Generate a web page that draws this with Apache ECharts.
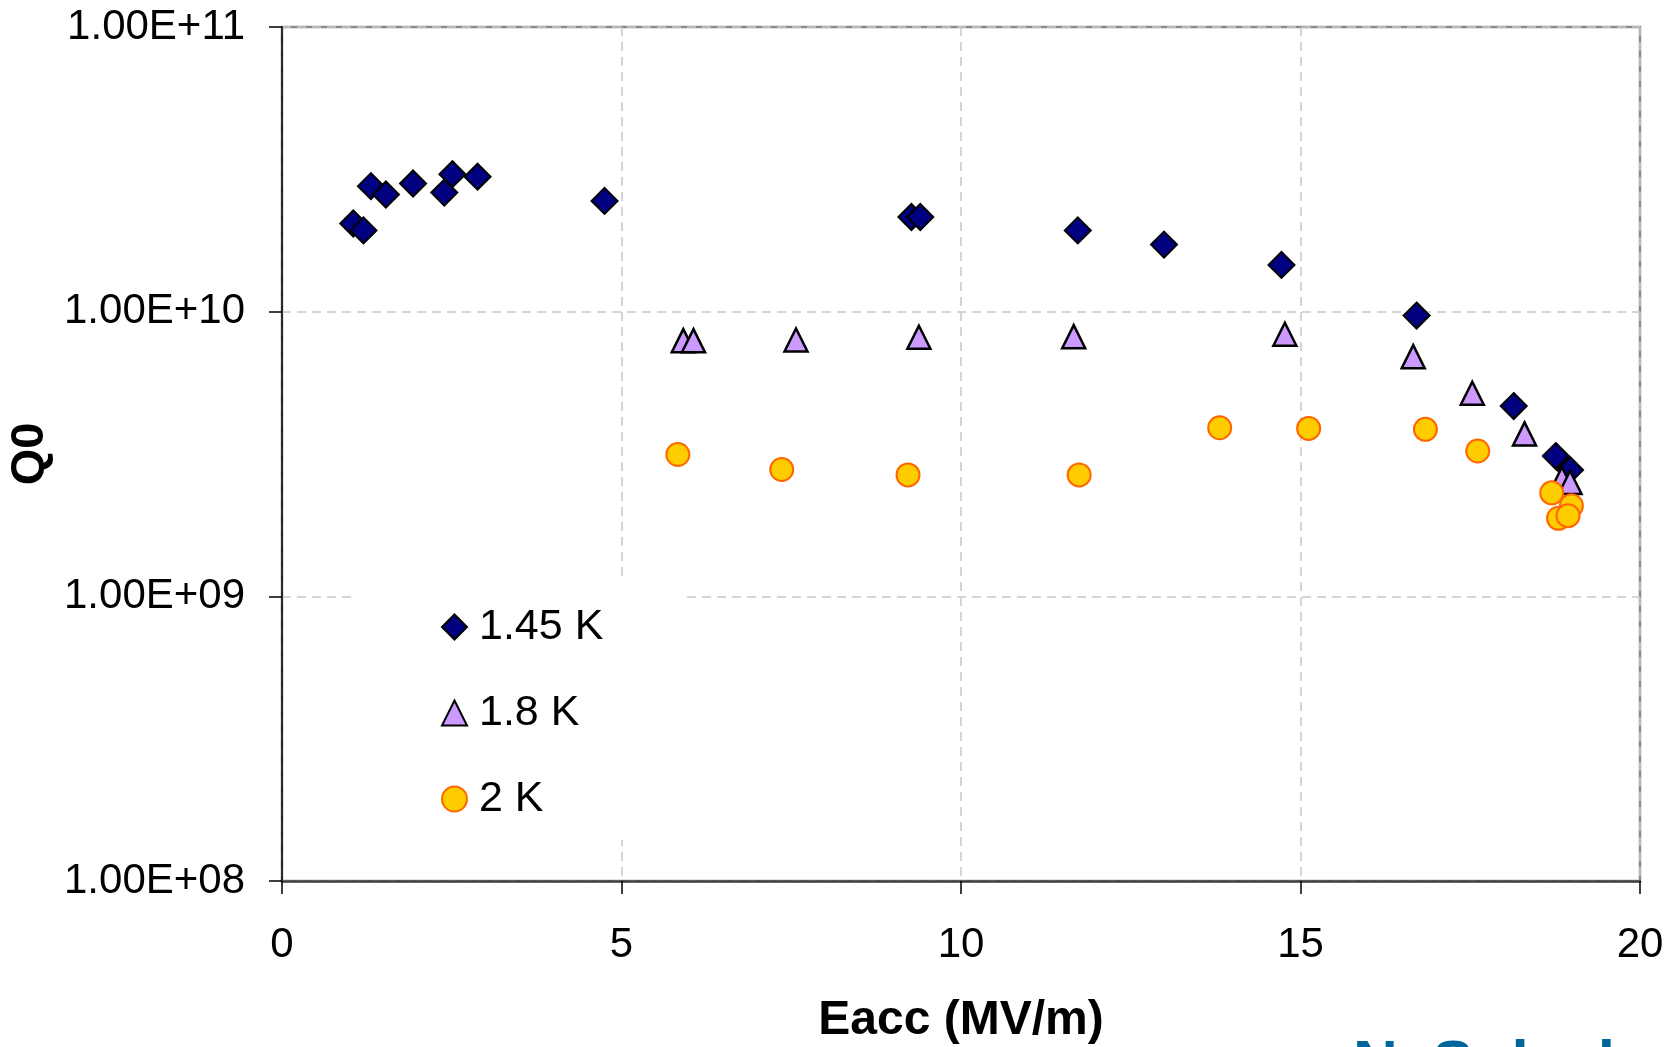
<!DOCTYPE html>
<html>
<head>
<meta charset="utf-8">
<script src="https://cdn.jsdelivr.net/npm/echarts/dist/echarts.min.js"></script>
<style>
  html, body { margin: 0; padding: 0; background: #fff; }
  #chart { width: 1674px; height: 1047px; }
</style>
</head>
<body>
<div id="chart"></div>
<script>
// 1.45 K
const eacc145 = [1.05, 1.20, 1.31, 1.53, 1.93, 2.39, 2.51, 2.88, 4.75, 9.27, 9.40, 11.72, 12.99, 14.72, 16.71, 18.14, 18.76, 18.97]
const q145 = [2.04e10, 1.93e10, 2.76e10, 2.58e10, 2.82e10, 2.62e10, 3.04e10, 2.98e10, 2.45e10, 2.15e10, 2.15e10, 1.93e10, 1.72e10, 1.46e10, 9.69e9, 4.66e9, 3.11e9, 2.78e9]

// 1.8 K
const eacc18 = [5.91, 6.06, 7.57, 9.38, 11.66, 14.77, 16.66, 17.53, 18.30, 18.85, 18.97]
const q18 = [7.91e9, 7.91e9, 7.95e9, 8.13e9, 8.17e9, 8.33e9, 6.95e9, 5.17e9, 3.72e9, 2.59e9, 2.51e9]

// 2 K
const eacc2 = [5.83, 7.36, 9.22, 11.74, 13.81, 15.12, 16.84, 17.61, 18.70, 18.99, 18.80, 18.94]
const q2 = [3.15e9, 2.79e9, 2.67e9, 2.67e9, 3.91e9, 3.89e9, 3.86e9, 3.24e9, 2.31e9, 2.08e9, 1.88e9, 1.92e9]

const seriesNames = ['1.45 K', '1.8 K', '2 K']
const xTicks = [0, 5, 10, 15, 20]
const yTicks = [1e8, 1e9, 1e10, 1e11]

const FONT = '"Liberation Sans", Arial, sans-serif'

function pairs(xs, ys) {
  return xs.map((x, i) => [x, ys[i]])
}

const chart = echarts.init(document.getElementById('chart'))

const gridDash = {
  color: '#c8c8c8',
  width: 1.5,
  type: [9, 6]
}

const option = {
  animation: false,
  backgroundColor: '#fff',
  grid: {
    left: 282,
    right: 34,
    top: 27,
    bottom: 166,
    outerBoundsMode: 'none',
    containLabel: false,
    show: true,
    borderColor: '#8a8a8a',
    borderWidth: 2.5,
    backgroundColor: 'transparent'
  },
  legend: {
    orient: 'vertical',
    left: 353,
    top: 580,
    padding: [24, 80, 18, 88],
    backgroundColor: '#fff',
    itemWidth: 25,
    itemHeight: 25,
    itemGap: 40,
    selectedMode: false,
    textStyle: {
      fontFamily: FONT,
      fontSize: 43,
      color: '#000',
      lineHeight: 46,
      padding: [0, 0, 0, 7]
    },
    data: seriesNames
  },
  xAxis: {
    type: 'value',
    min: xTicks[0],
    max: xTicks[xTicks.length - 1],
    interval: 5,
    name: 'Eacc (MV/m)',
    nameLocation: 'middle',
    nameGap: 116,
    nameTextStyle: {
      fontFamily: FONT,
      fontSize: 48,
      fontWeight: 'bold',
      color: '#000'
    },
    axisLine: { lineStyle: { color: '#404040', width: 2.5 } },
    axisTick: { show: true, inside: false, length: 13, lineStyle: { color: '#000', width: 1.5 } },
    axisLabel: {
      margin: 43,
      fontFamily: FONT,
      fontSize: 42,
      color: '#000'
    },
    splitLine: { show: true, lineStyle: gridDash }
  },
  yAxis: {
    type: 'log',
    logBase: 10,
    min: yTicks[0],
    max: yTicks[yTicks.length - 1],
    splitNumber: 3,
    name: 'Q0',
    nameLocation: 'middle',
    nameRotate: 90,
    nameGap: 222,
    nameTextStyle: {
      fontFamily: FONT,
      fontSize: 47,
      fontWeight: 'bold',
      color: '#000'
    },
    axisLine: { show: true, lineStyle: { color: '#000', width: 1.5 } },
    axisTick: { show: true, inside: false, length: 13, lineStyle: { color: '#000', width: 1.5 } },
    minorTick: { show: false },
    axisLabel: {
      margin: 37,
      fontFamily: FONT,
      fontSize: 42,
      color: '#000',
      formatter: function (v) {
        const e = Math.round(Math.log10(v))
        return '1.00E+' + (e < 10 ? '0' : '') + e
      }
    },
    splitLine: { show: true, lineStyle: gridDash }
  },
  graphic: [{
    type: 'text',
    left: 1353,
    top: 1035,
    style: {
      text: 'N. Solyak',
      font: 'bold 62px ' + FONT,
      fill: '#00669a'
    }
  }],
  series: [
    {
      name: seriesNames[0],
      type: 'scatter',
      symbol: 'diamond',
      symbolSize: 26,
      data: pairs(eacc145, q145),
      itemStyle: { color: '#000080', borderColor: '#000', borderWidth: 2, opacity: 1 }
    },
    {
      name: seriesNames[1],
      type: 'scatter',
      symbol: 'triangle',
      symbolSize: 23,
      data: pairs(eacc18, q18),
      itemStyle: { color: '#cc99ff', borderColor: '#000', borderWidth: 2.5, opacity: 1 }
    },
    {
      name: seriesNames[2],
      type: 'scatter',
      symbol: 'circle',
      symbolSize: 23,
      data: pairs(eacc2, q2),
      itemStyle: { color: '#ffcc00', borderColor: '#ff6600', borderWidth: 2, opacity: 1 }
    }
  ]
}

chart.setOption(option)
</script>
</body>
</html>
